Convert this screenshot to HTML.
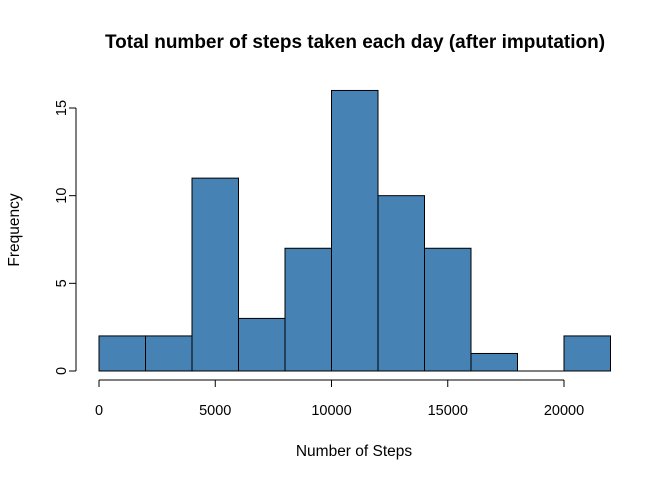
<!DOCTYPE html>
<html><head><meta charset="utf-8"><style>body{margin:0;background:#fff}svg{display:block;font-family:"Liberation Sans",Arial,sans-serif}</style></head>
<body>
<svg id="chart" width="672" height="480" viewBox="0 0 672 480" xmlns="http://www.w3.org/2000/svg">
<rect width="672" height="480" fill="#fff"/>
<text x="355" y="48" text-anchor="middle" font-size="19" font-weight="bold">Total number of steps taken each day (after imputation)</text>
<text x="354" y="456" text-anchor="middle" font-size="15.5">Number of Steps</text>
<text transform="translate(19,230) rotate(-90)" text-anchor="middle" font-size="15.5">Frequency</text>
<g id="bars"></g>
<g id="xaxis"></g>
<g id="yaxis"></g>
</svg>
<script>
const binEdges=[0,2000,4000,6000,8000,10000,12000,14000,16000,18000,20000,22000];
const counts=[2,2,11,3,7,16,10,7,1,0,2];
const xTicks=[0,5000,10000,15000,20000];
const yTicks=[0,5,10,15];
const NS="http://www.w3.org/2000/svg";
function x(v){return 99+v*(465/20000);}
function y(v){return 371-v*(263/15);}
function mk(t,a,p){const e=document.createElementNS(NS,t);for(const k in a)e.setAttribute(k,a[k]);p.appendChild(e);return e;}
const bars=document.getElementById('bars');
counts.forEach((c,i)=>{
  if(c<=0){const l=mk('line',{x1:x(binEdges[i]),x2:x(binEdges[i+1]),y1:y(0),y2:y(0),stroke:'#000','stroke-width':1},bars);
    
    return;}
  const r=mk('rect',{x:x(binEdges[i]),y:y(c),width:x(binEdges[i+1])-x(binEdges[i]),height:y(0)-y(c),fill:'#4682b4',stroke:'#000','stroke-width':1},bars);
  
  
});
const xa=document.getElementById('xaxis');
mk('line',{x1:x(xTicks[0]),x2:x(xTicks[xTicks.length-1]),y1:380,y2:380,stroke:'#000'},xa);
xTicks.forEach(t=>{
  mk('line',{x1:x(t),x2:x(t),y1:380,y2:387,stroke:'#000'},xa);
  const tx=mk('text',{x:x(t),y:415,'text-anchor':'middle','font-size':14.5},xa);tx.textContent=t;
  
  
});
const ya=document.getElementById('yaxis');
mk('line',{x1:76,x2:76,y1:y(yTicks[0]),y2:y(yTicks[yTicks.length-1]),stroke:'#000'},ya);
yTicks.forEach(t=>{
  mk('line',{x1:69,x2:76,y1:y(t),y2:y(t),stroke:'#000'},ya);
  const tx=mk('text',{transform:'translate(66,'+y(t)+') rotate(-90)','text-anchor':'middle','font-size':14.5},ya);tx.textContent=t;
  
  
});
</script>
</body></html>
